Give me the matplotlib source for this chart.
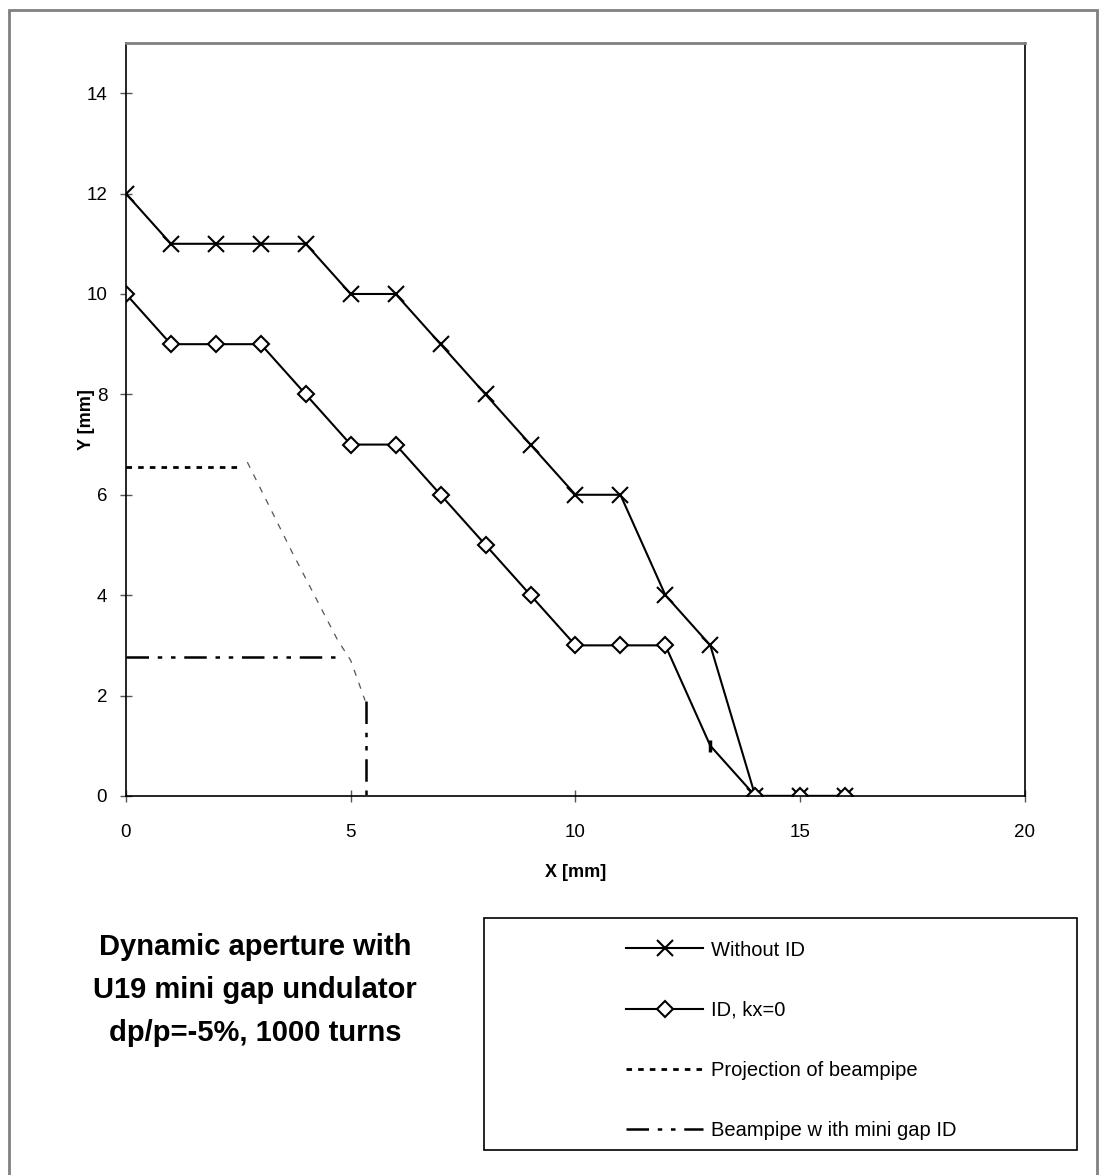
import matplotlib
matplotlib.use("Agg")
import matplotlib.pyplot as plt
from matplotlib.patches import Rectangle

plt.rcParams['font.family'] = ['Liberation Sans', 'DejaVu Sans']

# --- data ---
x_pts = [0, 1, 2, 3, 4, 5, 6, 7, 8, 9, 10, 11, 12, 13, 14, 15, 16]
y_without_id = [12, 11, 11, 11, 11, 10, 10, 9, 8, 7, 6, 6, 4, 3, 0, 0, 0]
y_id_kx0 = [10, 9, 9, 9, 8, 7, 7, 6, 5, 4, 3, 3, 3, 1, 0, 0, 0]

# beampipe projection (flat top + sloped side)
proj_flat_x = [0, 2.5]
proj_flat_y = [6.55, 6.55]
proj_side_x = [2.7, 3.7, 4.7, 5.0, 5.32]
proj_side_y = [6.65, 4.85, 3.12, 2.7, 1.9]

# beampipe with mini gap ID
mini_h_x = [0, 4.83]
mini_h_y = [2.77, 2.77]
mini_v_x = [5.34, 5.34]
mini_v_y = [1.9, 0]

labels = ['Without ID', 'ID, kx=0', 'Projection of beampipe',
          'Beampipe w ith mini gap ID']
title_lines = ['Dynamic aperture with', 'U19 mini gap undulator',
               'dp/p=-5%, 1000 turns']

fig = plt.figure(figsize=(11, 11.75), dpi=100)
ax = fig.add_axes([0.1145, 0.3226, 0.8173, 0.6408])

l1, = ax.plot(x_pts, y_without_id, color='black', lw=1.5, marker='x',
              markersize=11, markeredgewidth=1.5)
# the diamond at x=13 is drawn as a short tick in the original
every = [i for i in range(len(x_pts)) if i != 13]
l2, = ax.plot(x_pts, y_id_kx0, color='black', lw=1.5, marker='D',
              markersize=8, markerfacecolor='white', markeredgewidth=1.5,
              markevery=every)
ax.plot([x_pts[13]], [y_id_kx0[13]], marker='|', color='black',
        markersize=8, markeredgewidth=2.5, ls='none')

l3, = ax.plot(proj_flat_x, proj_flat_y, color='black', lw=2,
              dashes=(2, 2.2))
ax.plot(proj_side_x, proj_side_y, color='#555555', lw=0.9, dashes=(5, 6))

l4, = ax.plot(mini_h_x, mini_h_y, color='black', lw=1.8,
              dashes=(9, 3.5, 1.8, 3.5, 1.8, 3.5))
ax.plot(mini_v_x, mini_v_y, color='black', lw=1.8,
        dashes=(9, 3.5, 1.8, 3.5, 1.8, 3.5))

ax.set_xlim(0, 20)
ax.set_ylim(0, 15)
ax.set_xticks([0, 5, 10, 15, 20])
ax.set_yticks([0, 2, 4, 6, 8, 10, 12, 14])
ax.tick_params(direction='inout', length=9, width=1, color='#555555',
               labelsize=13.5)
ax.tick_params(axis='x', pad=16)
ax.tick_params(axis='y', pad=9)
for s in ['left', 'bottom', 'right']:
    ax.spines[s].set_color('black')
    ax.spines[s].set_linewidth(1.2)
ax.spines['top'].set_color('#808080')
ax.spines['top'].set_linewidth(2)

ax.set_xlabel('X [mm]', fontsize=13, fontweight='bold', labelpad=16)
ax.set_ylabel('Y [mm]', fontsize=13, fontweight='bold')
ax.yaxis.set_label_coords(-31 / 899, 0.5)

# title block
fig.text(0.232, 1 - 933 / 1175, '\n'.join(title_lines), ha='center', va='top',
         fontsize=21, fontweight='bold', linespacing=1.68)

# legend box
fig.patches.append(Rectangle((484 / 1100, 1 - 1150 / 1175), (1077 - 484) / 1100,
                             (1150 - 918) / 1175, transform=fig.transFigure,
                             fill=False, edgecolor='black', lw=1.2))
fig.legend([l1, l2, l3, l4], labels, frameon=False, loc='upper left',
           bbox_to_anchor=(0.553, 0.215), fontsize=14.5, handlelength=3.8,
           handletextpad=0.4, labelspacing=2.05)

# outer frame
fig.patches.append(Rectangle((9 / 1100, -0.05), 1088 / 1100, 1.05 - 10 / 1175,
                             transform=fig.transFigure, fill=False,
                             edgecolor='#808080', lw=2))

fig.savefig('out.png', dpi=100, facecolor='white')
